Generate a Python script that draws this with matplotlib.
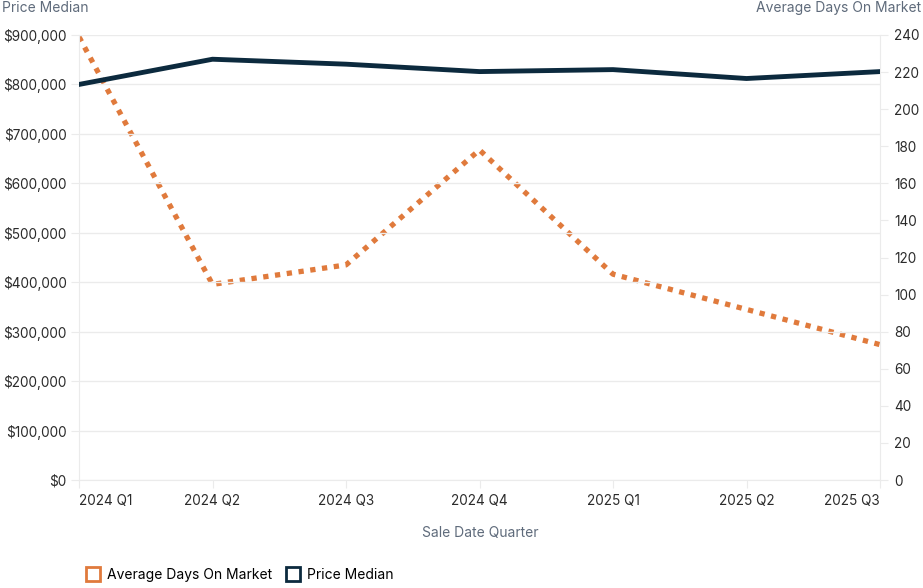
import numpy as np
import matplotlib.pyplot as plt
from matplotlib.lines import Line2D

quarters = ["2024 Q1", "2024 Q2", "2024 Q3", "2024 Q4", "2025 Q1", "2025 Q2", "2025 Q3"]
price_median = [800000, 851000, 841000, 826000, 830000, 812000, 826000]
avg_days = [239, 105.5, 116, 178, 111, 92, 73]

navy = "#0c2a3e"
orange = "#e07a3c"
gray_txt = "#5f6b7b"
grid_c = "#ebebeb"

plt.rcParams['font.family'] = ['Inter', 'DejaVu Sans']

fig = plt.figure(figsize=(9.23, 5.88), dpi=100)
ax = fig.add_axes([79/923, 1-480/588, (880-79)/923, (480-35)/588])
ax2 = ax.twinx()

x = np.arange(len(quarters))
ax2.plot(x, avg_days, color=orange, lw=3.8, ls=(0, (1.0, 1.25)), zorder=2)
ax.plot(x, price_median, color=navy, lw=3.5, zorder=3)
ax.set_zorder(ax2.get_zorder() + 1)
ax.patch.set_visible(False)

ax.set_xlim(0, len(quarters) - 1)
ax.set_ylim(0, 900000)
ax2.set_ylim(0, 240)
ax.set_yticks(np.arange(0, 900001, 100000))
ax.set_yticklabels(["$%s" % format(v, ",") for v in range(0, 900001, 100000)])
ax2.set_yticks(np.arange(0, 241, 20))
ax.grid(axis='y', color=grid_c, lw=1)
ax.set_axisbelow(True)

ax.set_xticks(x)
ax.set_xticklabels(quarters)
labs = ax.get_xticklabels()
labs[0].set_horizontalalignment('left')
labs[-1].set_horizontalalignment('right')

for a in (ax, ax2):
    for s in a.spines.values():
        s.set_visible(False)
ax.spines['left'].set_visible(True)
ax.spines['left'].set_color(grid_c)
ax.spines['bottom'].set_visible(True)
ax.spines['bottom'].set_color(grid_c)
ax2.spines['right'].set_visible(True)
ax2.spines['right'].set_color(grid_c)

ax.tick_params(axis='y', length=6, color=grid_c, labelsize=9.8, labelcolor='#2b2b2b', pad=3)
ax.tick_params(axis='x', length=6, color=grid_c, labelsize=9.8, labelcolor='#2b2b2b', pad=4)
ax2.tick_params(axis='y', length=6, color=grid_c, labelsize=9.8, labelcolor='#2b2b2b', pad=4)

fig.text(2/923, 1-8/588, "Price Median", color=gray_txt, fontsize=10, ha='left', va='center')
fig.text(921/923, 1-8/588, "Average Days On Market", color=gray_txt, fontsize=10, ha='right', va='center')
fig.text(480/923, 1-533/588, "Sale Date Quarter", color=gray_txt, fontsize=10, ha='center', va='center')

handles = [Line2D([], [], ls='none', marker='s', ms=10, mfc='white', mec=orange, mew=2),
           Line2D([], [], ls='none', marker='s', ms=10, mfc='white', mec=navy, mew=2)]
fig.legend(handles, ["Average Days On Market", "Price Median"], loc='center left',
           bbox_to_anchor=(74/923, 1-575/588), ncol=2, frameon=False, fontsize=10,
           handletextpad=0.5, columnspacing=1.0, handlelength=1.0)

plt.savefig('out.png', dpi=100)
